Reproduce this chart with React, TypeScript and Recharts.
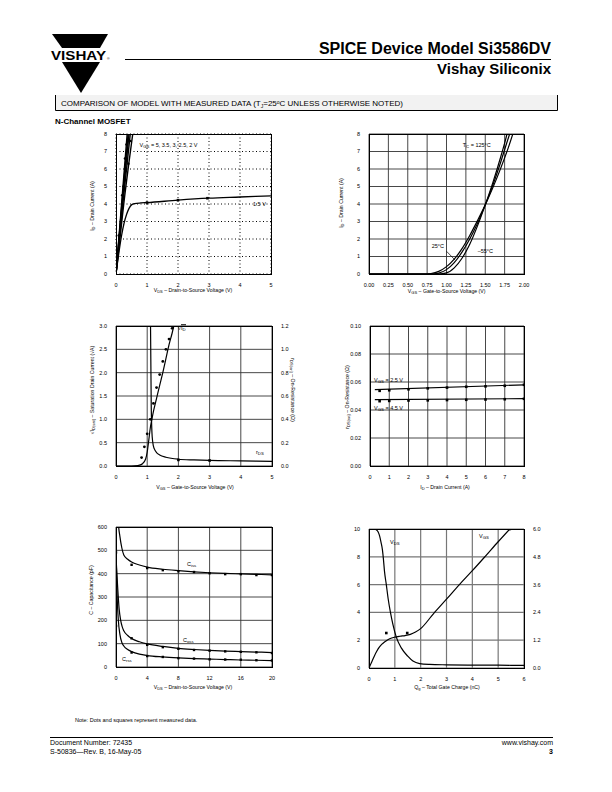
import React from 'react';
import { ComposedChart, Line, Scatter, XAxis, YAxis, CartesianGrid, ReferenceLine } from 'recharts';

const FONT = '"Liberation Sans", Arial, Helvetica, sans-serif';

// ---------- data (x, y pairs) ----------
// 1. output characteristics: ID (A) vs VDS (V)
const outVgs5 = [[0, 0], [0.18, 4], [0.36, 8]];
const outVgs35 = [[0, 0], [0.19, 4], [0.39, 8]];
const outVgs3 = [[0, 0], [0.2, 4], [0.42, 8]];
const outVgs25 = [[0, 0], [0.22, 4], [0.46, 8]];
const outVgs2 = [[0, 0], [0.25, 4], [0.54, 8]];
const outVgs15 = [[0, 0], [0.1, 1.3], [0.18, 2.2], [0.26, 2.9], [0.34, 3.4], [0.42, 3.75], [0.5, 3.95], [0.6, 4.02], [0.8, 4.06], [1, 4.08], [2, 4.22], [3, 4.33], [4, 4.4], [5, 4.47]];
const outDotsHigh = [[0.09, 2.2], [0.2, 4.5], [0.24, 5.0], [0.29, 6.6], [0.34, 7.4], [0.4, 6.3], [0.46, 7.6]];
const outDotsLow = [[1, 4.08], [2, 4.22], [2.95, 4.33]];

// 2. transfer characteristics: ID (A) vs VGS (V)
const tc125 = [[0, 0], [0.7, 0], [0.8, 0.03], [0.9, 0.15], [1.0, 0.42], [1.1, 0.85], [1.2, 1.45], [1.3, 2.2], [1.4, 3.05], [1.5, 3.95], [1.6, 4.95], [1.7, 6.05], [1.8, 7.25], [1.87, 8.2]];
const tc25 = [[0, 0], [0.8, 0], [0.9, 0.05], [1.0, 0.25], [1.1, 0.65], [1.2, 1.25], [1.3, 2.0], [1.4, 2.9], [1.5, 3.95], [1.6, 5.1], [1.7, 6.4], [1.8, 7.8], [1.83, 8.2]];
const tcM55 = [[0, 0], [0.9, 0], [1.0, 0.06], [1.1, 0.35], [1.2, 0.9], [1.3, 1.7], [1.4, 2.75], [1.5, 3.95], [1.6, 5.25], [1.7, 6.7], [1.78, 8.0], [1.8, 8.4]];

// 3. sqrt(ID(sat)) (left) and rDS (right) vs VGS
const sqrtId = [[0, 0], [0.5, 0], [0.7, 0.01], [0.85, 0.05], [0.95, 0.15], [1.0, 0.3], [1.05, 0.55], [1.1, 0.82], [1.15, 1.0], [1.2, 1.17], [1.3, 1.45], [1.4, 1.73], [1.5, 2.0], [1.6, 2.3], [1.7, 2.6], [1.8, 2.85], [1.87, 3.05]];
const sqrtIdDots = [[0.82, 0.18], [0.91, 0.41], [1.0, 0.69], [1.1, 1.0], [1.2, 1.34], [1.3, 1.68], [1.4, 1.96], [1.5, 2.24], [1.6, 2.5], [1.7, 2.72], [1.8, 2.95]];
const rdsVgs = [[1.07, 3], [1.1, 1.4], [1.13, 0.5], [1.16, 0.25], [1.2, 0.17], [1.25, 0.135], [1.3, 0.115], [1.4, 0.095], [1.6, 0.075], [2, 0.058], [2.5, 0.052], [3, 0.048], [4, 0.044], [5, 0.04]];
const rdsVgsDots = [[2, 0.052], [3, 0.047]];

// 4. rDS(on) vs ID
const ron25 = [[0.25, 0.0546], [8, 0.058]];
const ron25Dots = [[0.5, 0.0537], [1, 0.0541], [2, 0.0548], [3, 0.0555], [4, 0.056], [5, 0.0566], [6, 0.0569], [7, 0.0573], [8, 0.058]];
const ron45 = [[0.25, 0.0474], [8, 0.0481]];
const ron45Dots = [[0.5, 0.0463], [1, 0.0465], [2, 0.0468], [3, 0.0469], [4, 0.0471], [5, 0.0473], [6, 0.0475], [7, 0.0477], [8, 0.048]];

// 5. capacitance (pF) vs VDS
const ciss = [[0.2, 700], [0.3, 620], [0.5, 560], [0.75, 510], [1, 480], [1.5, 462], [2, 450], [3, 437], [4, 428], [6, 419], [8, 413], [10, 408], [12, 404], [14, 401], [16, 399], [18, 397], [20, 395]];
const cissDots = [[0, 491], [2, 438], [4, 424], [6, 415], [8, 410], [10, 407], [12, 402], [14, 398], [16, 398], [18, 394], [20, 394]];
const coss = [[0.05, 440], [0.2, 350], [0.4, 250], [0.6, 200], [0.8, 172], [1, 155], [1.5, 135], [2, 122], [3, 108], [4, 99], [6, 88], [8, 80], [10, 75], [12, 71], [14, 68], [16, 66], [18, 64], [20, 62]];
const cossDots = [[0, 264], [2, 123], [4, 95], [6, 85], [8, 78], [10, 73], [12, 70], [14, 67], [16, 65], [18, 63], [20, 60]];
const crss = [[0.05, 430], [0.15, 300], [0.3, 200], [0.5, 140], [0.75, 105], [1, 90], [1.5, 75], [2, 66], [3, 55], [4, 49], [6, 43], [8, 39], [10, 36], [12, 34], [14, 32], [16, 30], [18, 29], [20, 27]];
const crssDots = [[0, 176], [2, 62], [4, 47], [6, 43], [8, 38], [10, 36], [12, 33], [14, 32], [16, 31], [18, 29], [20, 28]];

// 6. gate charge: VDS (left) and VGS (right) vs Qg (nC)
const qgVds = [[0, 10], [0.2, 10], [0.28, 9.95], [0.35, 9.8], [0.41, 9.5], [0.47, 9.0], [0.52, 8.5], [0.56, 7.8], [0.6, 6.95], [0.67, 6.0], [0.74, 5.0], [0.83, 4.0], [0.93, 3.1], [1.06, 2.2], [1.25, 1.45], [1.5, 0.85], [1.7, 0.5], [1.96, 0.32], [2.35, 0.26], [3, 0.23], [4, 0.21], [5, 0.2], [6, 0.19]];
const qgVgs = [[0, 0], [0.1, 0.25], [0.2, 0.5], [0.3, 0.72], [0.4, 0.9], [0.5, 1.03], [0.6, 1.12], [0.7, 1.2], [0.8, 1.26], [1.0, 1.33], [1.2, 1.37], [1.4, 1.4], [1.6, 1.45], [1.8, 1.55], [2.0, 1.7], [2.5, 2.35], [3, 2.97], [3.5, 3.6], [4, 4.2], [4.5, 4.82], [5, 5.45], [5.45, 6.0]];
const qgVgsDots = [[0.67, 1.51], [1.48, 1.51], [5.45, 6.0]];

// ticks
const ticks0to5 = [0, 1, 2, 3, 4, 5];
const ticks0to8 = [0, 1, 2, 3, 4, 5, 6, 7, 8];
const ticksVgs2 = [0, 0.25, 0.5, 0.75, 1, 1.25, 1.5, 1.75, 2];
const ticksSqrt = [0, 0.5, 1, 1.5, 2, 2.5, 3];
const ticksRds = [0, 0.2, 0.4, 0.6, 0.8, 1.0, 1.2];
const ticksRon = [0, 0.02, 0.04, 0.06, 0.08, 0.1];
const ticksCapX = [0, 4, 8, 12, 16, 20];
const ticksCapY = [0, 100, 200, 300, 400, 500, 600];
const ticksQg = [0, 1, 2, 3, 4, 5, 6];
const ticksQgL = [0, 2, 4, 6, 8, 10];
const ticksQgR = [0, 1.2, 2.4, 3.6, 4.8, 6.0];

const pts = (a: number[][]) => a.map(([x, y]) => ({ x, y }));

// ---------- helpers ----------
const TICK = { fontSize: 5.5, fill: '#000', fontFamily: FONT };

type Rect = { x: number; y: number; w: number; h: number };
type Ax = { domain: [number, number]; ticks: number[]; fmt?: (v: number) => string };

function Plot({ r, x, y, y2, grid, children }: { r: Rect; x: Ax; y: Ax; y2?: Ax; grid: any; children: any }) {
  return (
    <>
      <div style={{ position: 'absolute', left: r.x - 30, top: r.y - 8 }}>
        <ComposedChart width={r.w + 60} height={r.h + 30} margin={{ top: 8, right: y2 ? 0 : 30, bottom: 0, left: 0 }}>
          <CartesianGrid yAxisId="l" stroke={grid.stroke} strokeWidth={grid.width} strokeDasharray={grid.dash} />
          <XAxis type="number" dataKey="x" domain={x.domain} ticks={x.ticks} tickFormatter={x.fmt} interval={0}
            allowDataOverflow tickLine={false} axisLine={false} tick={TICK} tickMargin={3} height={22} />
          <YAxis yAxisId="l" type="number" domain={y.domain} ticks={y.ticks} tickFormatter={y.fmt} interval={0}
            allowDataOverflow tickLine={false} axisLine={false} tick={TICK} tickMargin={3} width={30} />
          {y2 && (
            <YAxis yAxisId="r" orientation="right" type="number" domain={y2.domain} ticks={y2.ticks} tickFormatter={y2.fmt}
              interval={0} allowDataOverflow tickLine={false} axisLine={false} tick={TICK} tickMargin={3} width={30} />
          )}
          {children}
        </ComposedChart>
      </div>
      <div style={{ position: 'absolute', left: r.x - 0.5, top: r.y - 0.5, width: r.w + 1, height: r.h + 1, border: '1px solid #000', boxSizing: 'border-box' }} />
    </>
  );
}

const curve = (data: number[][], key: string, axis = 'l', w = 1.2) => (
  <Line key={key} data={pts(data)} dataKey="y" yAxisId={axis} type="monotone" stroke="#000" strokeWidth={w}
    dot={false} activeDot={false} isAnimationActive={false} />
);

const square = (s: number) => (p: any) => <rect x={p.cx - s / 2} y={p.cy - s / 2} width={s} height={s} fill="#000" />;
const circle = (rad: number) => (p: any) => <circle cx={p.cx} cy={p.cy} r={rad} fill="#000" />;

const marks = (data: number[][], key: string, shape: any, axis = 'l') => (
  <Scatter key={key} data={pts(data)} dataKey="y" yAxisId={axis} shape={shape} isAnimationActive={false} />
);

function T({ x, y, s = 5.5, a = 'start', rot = 0, b = false, children }: any) {
  const tx = a === 'middle' ? '-50%' : a === 'end' ? '-100%' : '0';
  return (
    <div style={{
      position: 'absolute', left: x, top: y, fontSize: s, fontFamily: FONT, fontWeight: b ? 700 : 400,
      lineHeight: 1, whiteSpace: 'nowrap', color: '#000',
      transform: rot ? `translate(-50%,-50%) rotate(${rot}deg)` : `translate(${tx},-50%)`,
    }}>{children}</div>
  );
}
const Sub = ({ children }: any) => <span style={{ fontSize: '0.78em', position: 'relative', top: '0.3em' }}>{children}</span>;

const f2 = (v: number) => v.toFixed(2);
const f1 = (v: number) => v.toFixed(1);

const R1 = { x: 116, y: 134, w: 155, h: 140 };
const R2 = { x: 369, y: 134, w: 155, h: 140 };
const R3 = { x: 116, y: 326, w: 156, h: 140 };
const R4 = { x: 370, y: 326, w: 154, h: 140 };
const R5 = { x: 116, y: 527, w: 156, h: 140 };
const R6 = { x: 369, y: 529, w: 155, h: 139 };

const darkGrid = { stroke: '#333', width: 0.9 };

export default function App() {
  return (
    <div style={{ position: 'absolute', left: 0, top: 0, width: 612, height: 792, background: '#fff', fontFamily: FONT }}>
      <svg width={612} height={792} style={{ position: 'absolute', left: 0, top: 0 }}>
        {/* logo */}
        <polygon points="52,34 108,34 100,48 62,48" fill="#000" />
        <text x={51} y={60} fontFamily={FONT} fontWeight="bold" fontSize={12.5} textLength={55} lengthAdjust="spacingAndGlyphs">VISHAY</text>
        <text x={107} y={60} fontFamily={FONT} fontSize={3.5}>®</text>
        <polygon points="62,62 100,62 81,93" fill="#000" />
        {/* title */}
        <text x={551} y={54} textAnchor="end" fontFamily={FONT} fontWeight="bold" fontSize={16}>SPICE Device Model Si3586DV</text>
        <line x1={125} y1={59.5} x2={551} y2={59.5} stroke="#000" strokeWidth={1} />
        <text x={551} y={74} textAnchor="end" fontFamily={FONT} fontWeight="bold" fontSize={15}>Vishay Siliconix</text>
        {/* banner */}
        <rect x={55} y={95} width={503} height={16} fill="#f2f2f2" />
        <path d="M55.5,95 V110.5 H557.5 V95" fill="none" stroke="#000" strokeWidth={1} />
        <text x={61} y={106} fontFamily={FONT} fontSize={8}>
          COMPARISON OF MODEL WITH MEASURED DATA (T<tspan fontSize={5} dy={1.5}>J</tspan><tspan dy={-1.5}>=25</tspan><tspan fontSize={5} dy={-2}>o</tspan><tspan dy={2}>C UNLESS OTHERWISE NOTED)</tspan>
        </text>
        <text x={55} y={124} fontFamily={FONT} fontWeight="bold" fontSize={8}>N-Channel MOSFET</text>
        {/* footer */}
        <text x={75} y={722} fontFamily={FONT} fontSize={5.5}>Note:  Dots and squares represent measured data.</text>
        <line x1={50} y1={737.5} x2={553} y2={737.5} stroke="#000" strokeWidth={1.2} />
        <text x={50} y={745} fontFamily={FONT} fontSize={7}>Document Number: 72435</text>
        <text x={50} y={754} fontFamily={FONT} fontSize={7}>S-50836—Rev. B, 16-May-05</text>
        <text x={553} y={745} textAnchor="end" fontFamily={FONT} fontSize={7}>www.vishay.com</text>
        <text x={553} y={754} textAnchor="end" fontFamily={FONT} fontWeight="bold" fontSize={7}>3</text>
      </svg>

      {/* 1. output characteristics */}
      <Plot r={R1} x={{ domain: [0, 5], ticks: ticks0to5 }} y={{ domain: [0, 8], ticks: ticks0to8 }}
        grid={{ stroke: '#000', width: 1, dash: '1 2.5' }}>
        {curve(outVgs5, 'a', 'l', 1.4)}
        {curve(outVgs35, 'b', 'l', 1.4)}
        {curve(outVgs3, 'c', 'l', 1.4)}
        {curve(outVgs25, 'd', 'l', 1.4)}
        {curve(outVgs2, 'e', 'l', 1.4)}
        {curve(outVgs15, 'f', 'l', 1.3)}
        {marks(outDotsHigh, 'g', circle(1.3))}
        {marks(outDotsLow, 'h', square(2.6))}
      </Plot>
      <T x={139.5} y={145.7}>V<Sub>GS</Sub> = 5, 3.5, 3, 2.5, 2 V</T>
      <T x={253} y={205}>1.5 V</T>
      <T x={193} y={291} s={5.2} a="middle">V<Sub>DS</Sub> – Drain-to-Source Voltage (V)</T>
      <T x={92.7} y={206} s={5.2} rot={-90}>I<Sub>D</Sub> – Drain Current (A)</T>

      {/* 2. transfer characteristics */}
      <Plot r={R2} x={{ domain: [0, 2], ticks: ticksVgs2, fmt: f2 }} y={{ domain: [0, 8], ticks: ticks0to8 }} grid={darkGrid}>
        {curve(tc125, 'a')}
        {curve(tc25, 'b')}
        {curve(tcM55, 'c')}
        <ReferenceLine yAxisId="l" segment={[{ x: 1.0, y: 1.3 }, { x: 1.11, y: 0.8 }]} stroke="#000" strokeWidth={0.7} />
      </Plot>
      <T x={462.7} y={145.7}>T<Sub>C</Sub> = 125°C</T>
      <T x={431.7} y={247}>25°C</T>
      <T x={477.7} y={251.7}>–55°C</T>
      <T x={446.7} y={291.7} s={5.2} a="middle">V<Sub>GS</Sub> – Gate-to-Source Voltage (V)</T>
      <T x={341.7} y={203} s={5.2} rot={-90}>I<Sub>D</Sub> – Drain Current (A)</T>

      {/* 3. sqrt ID(sat) and rDS vs VGS */}
      <Plot r={R3} x={{ domain: [0, 5], ticks: ticks0to5 }} y={{ domain: [0, 3], ticks: ticksSqrt, fmt: f1 }}
        y2={{ domain: [0, 1.2], ticks: ticksRds, fmt: f1 }} grid={darkGrid}>
        {curve(sqrtId, 'a')}
        {curve(rdsVgs, 'b', 'r')}
        {marks(sqrtIdDots, 'c', circle(1.4))}
        {marks(rdsVgsDots, 'd', square(2.6), 'r')}
      </Plot>
      <T x={178} y={328.5}>√<span style={{ borderTop: '0.5px solid #000' }}>I<Sub>D</Sub></span></T>
      <T x={256} y={453}>r<Sub>DS</Sub></T>
      <T x={195} y={488} s={5.2} a="middle">V<Sub>GS</Sub> – Gate-to-Source Voltage (V)</T>
      <T x={93} y={390} s={5.2} rot={-90}>√I<Sub>D(sat)</Sub> – Saturation Drain Current (√A)</T>
      <T x={292} y={390} s={5.2} rot={90}>r<Sub>DS(on)</Sub> – On-Resistance (Ω)</T>

      {/* 4. on-resistance vs drain current */}
      <Plot r={R4} x={{ domain: [0, 8], ticks: ticks0to8 }} y={{ domain: [0, 0.1], ticks: ticksRon, fmt: f2 }} grid={darkGrid}>
        {curve(ron25, 'a')}
        {curve(ron45, 'b')}
        {marks(ron25Dots, 'c', square(2.6))}
        {marks(ron45Dots, 'd', square(2.6))}
      </Plot>
      <T x={374} y={381}>V<Sub>GS</Sub> = 2.5 V</T>
      <T x={374} y={409}>V<Sub>GS</Sub> = 4.5 V</T>
      <T x={445} y={488} s={5.2} a="middle">I<Sub>D</Sub> – Drain Current (A)</T>
      <T x={348} y={397} s={5.2} rot={-90}>r<Sub>DS(on)</Sub> – On-Resistance (Ω)</T>

      {/* 5. capacitance */}
      <Plot r={R5} x={{ domain: [0, 20], ticks: ticksCapX }} y={{ domain: [0, 600], ticks: ticksCapY }} grid={darkGrid}>
        {curve(ciss, 'a')}
        {curve(coss, 'b')}
        {curve(crss, 'c')}
        {marks(cissDots, 'd', square(2.4))}
        {marks(cossDots, 'e', square(2.4))}
        {marks(crssDots, 'f', square(2.4))}
      </Plot>
      <T x={187} y={565}>C<Sub>iss</Sub></T>
      <T x={183} y={641}>C<Sub>oss</Sub></T>
      <T x={122} y={660}>C<Sub>rss</Sub></T>
      <T x={193} y={688} s={5.2} a="middle">V<Sub>DS</Sub> – Drain-to-Source Voltage (V)</T>
      <T x={92} y={590} s={5.2} rot={-90}>C – Capacitance (pF)</T>

      {/* 6. gate charge */}
      <Plot r={R6} x={{ domain: [0, 6], ticks: ticksQg }} y={{ domain: [0, 10], ticks: ticksQgL }}
        y2={{ domain: [0, 6], ticks: ticksQgR, fmt: f1 }} grid={{ stroke: '#777', width: 1.2 }}>
        {curve(qgVds, 'a')}
        {curve(qgVgs, 'b', 'r')}
        {marks(qgVgsDots, 'c', square(2.6), 'r')}
      </Plot>
      <T x={390} y={543}>V<Sub>DS</Sub></T>
      <T x={479} y={537}>V<Sub>GS</Sub></T>
      <T x={447} y={688} s={5.2} a="middle">Q<Sub>g</Sub> – Total Gate Charge (nC)</T>
    </div>
  );
}
